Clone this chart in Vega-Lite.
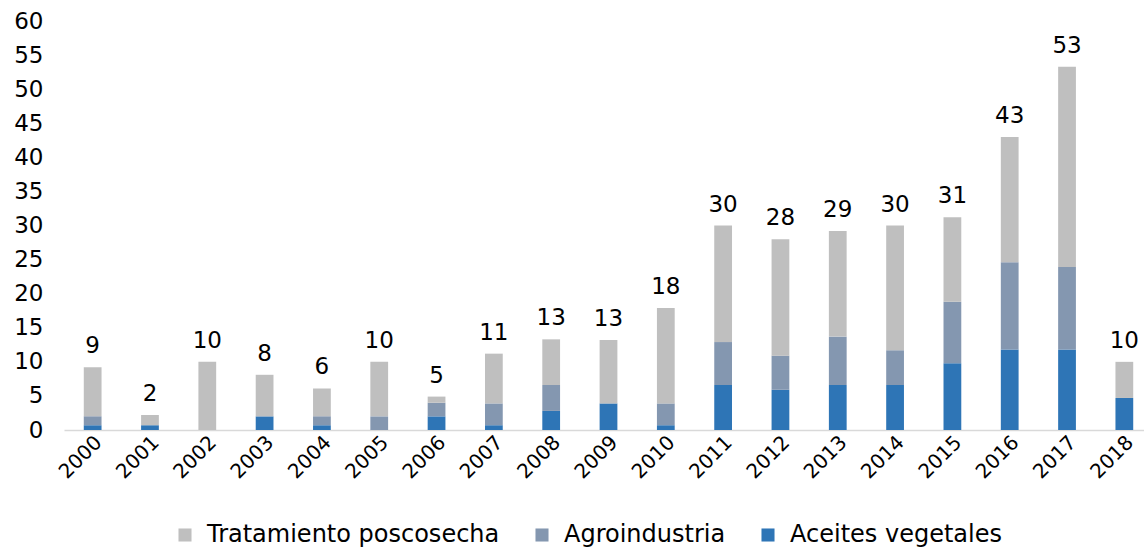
{
  "$schema": "https://vega.github.io/schema/vega-lite/v6.json",
  "autosize": "none",
  "width": 1080,
  "height": 409,
  "padding": {"left": 64, "top": 21, "right": 0, "bottom": 118},
  "background": "white",
  "config": {
    "view": {"stroke": null},
    "font": "DejaVu Sans",
    "axis": {"labelFont": "DejaVu Sans", "labelColor": "#000000", "labelFontSize": 23},
    "legend": {"labelFont": "DejaVu Sans", "labelFontSize": 24, "labelColor": "#000000"}
  },
  "data": {
    "values": [
      {"year": "2000", "serie": "Aceites vegetales", "value": 0.7},
      {"year": "2000", "serie": "Agroindustria", "value": 1.3},
      {"year": "2000", "serie": "Tratamiento poscosecha", "value": 7.2},
      {"year": "2001", "serie": "Aceites vegetales", "value": 0.7},
      {"year": "2001", "serie": "Agroindustria", "value": 0},
      {"year": "2001", "serie": "Tratamiento poscosecha", "value": 1.5},
      {"year": "2002", "serie": "Aceites vegetales", "value": 0},
      {"year": "2002", "serie": "Agroindustria", "value": 0},
      {"year": "2002", "serie": "Tratamiento poscosecha", "value": 10},
      {"year": "2003", "serie": "Aceites vegetales", "value": 2},
      {"year": "2003", "serie": "Agroindustria", "value": 0},
      {"year": "2003", "serie": "Tratamiento poscosecha", "value": 6.1},
      {"year": "2004", "serie": "Aceites vegetales", "value": 0.7},
      {"year": "2004", "serie": "Agroindustria", "value": 1.3},
      {"year": "2004", "serie": "Tratamiento poscosecha", "value": 4.1},
      {"year": "2005", "serie": "Aceites vegetales", "value": 0},
      {"year": "2005", "serie": "Agroindustria", "value": 2},
      {"year": "2005", "serie": "Tratamiento poscosecha", "value": 8},
      {"year": "2006", "serie": "Aceites vegetales", "value": 2},
      {"year": "2006", "serie": "Agroindustria", "value": 2},
      {"year": "2006", "serie": "Tratamiento poscosecha", "value": 0.9},
      {"year": "2007", "serie": "Aceites vegetales", "value": 0.7},
      {"year": "2007", "serie": "Agroindustria", "value": 3.2},
      {"year": "2007", "serie": "Tratamiento poscosecha", "value": 7.3},
      {"year": "2008", "serie": "Aceites vegetales", "value": 2.8},
      {"year": "2008", "serie": "Agroindustria", "value": 3.8},
      {"year": "2008", "serie": "Tratamiento poscosecha", "value": 6.7},
      {"year": "2009", "serie": "Aceites vegetales", "value": 3.9},
      {"year": "2009", "serie": "Agroindustria", "value": 0},
      {"year": "2009", "serie": "Tratamiento poscosecha", "value": 9.3},
      {"year": "2010", "serie": "Aceites vegetales", "value": 0.7},
      {"year": "2010", "serie": "Agroindustria", "value": 3.2},
      {"year": "2010", "serie": "Tratamiento poscosecha", "value": 14},
      {"year": "2011", "serie": "Aceites vegetales", "value": 6.6},
      {"year": "2011", "serie": "Agroindustria", "value": 6.3},
      {"year": "2011", "serie": "Tratamiento poscosecha", "value": 17.1},
      {"year": "2012", "serie": "Aceites vegetales", "value": 5.9},
      {"year": "2012", "serie": "Agroindustria", "value": 5},
      {"year": "2012", "serie": "Tratamiento poscosecha", "value": 17.1},
      {"year": "2013", "serie": "Aceites vegetales", "value": 6.6},
      {"year": "2013", "serie": "Agroindustria", "value": 7.1},
      {"year": "2013", "serie": "Tratamiento poscosecha", "value": 15.5},
      {"year": "2014", "serie": "Aceites vegetales", "value": 6.6},
      {"year": "2014", "serie": "Agroindustria", "value": 5.1},
      {"year": "2014", "serie": "Tratamiento poscosecha", "value": 18.3},
      {"year": "2015", "serie": "Aceites vegetales", "value": 9.8},
      {"year": "2015", "serie": "Agroindustria", "value": 9},
      {"year": "2015", "serie": "Tratamiento poscosecha", "value": 12.4},
      {"year": "2016", "serie": "Aceites vegetales", "value": 11.8},
      {"year": "2016", "serie": "Agroindustria", "value": 12.8},
      {"year": "2016", "serie": "Tratamiento poscosecha", "value": 18.4},
      {"year": "2017", "serie": "Aceites vegetales", "value": 11.8},
      {"year": "2017", "serie": "Agroindustria", "value": 12.1},
      {"year": "2017", "serie": "Tratamiento poscosecha", "value": 29.4},
      {"year": "2018", "serie": "Aceites vegetales", "value": 4.7},
      {"year": "2018", "serie": "Agroindustria", "value": 0},
      {"year": "2018", "serie": "Tratamiento poscosecha", "value": 5.3}
    ]
  },
  "encoding": {
    "x": {
      "field": "year",
      "type": "ordinal",
      "title": null,
      "scale": {"paddingInner": 0.69, "paddingOuter": 0.345, "range": [0, 1089]},
      "axis": {
        "labelAngle": -45,
        "labelAlign": "right",
        "labelBaseline": "middle",
        "ticks": false,
        "domainColor": "#d9d9d9",
        "domainWidth": 1.5,
        "labelPadding": 9,
        "labelOffset": 6,
        "labelFontSize": 20,
        "labelOverlap": false
      }
    }
  },
  "layer": [
    {
      "mark": {"type": "bar"},
      "encoding": {
        "y": {
          "field": "value",
          "type": "quantitative",
          "aggregate": "sum",
          "stack": "zero",
          "title": null,
          "scale": {"domain": [0, 60], "nice": false},
          "axis": {
            "values": [0, 5, 10, 15, 20, 25, 30, 35, 40, 45, 50, 55, 60],
            "grid": false,
            "domain": false,
            "ticks": false,
            "labelOverlap": false,
            "labelPadding": 21
          }
        },
        "color": {
          "field": "serie",
          "type": "nominal",
          "scale": {
            "domain": ["Tratamiento poscosecha", "Agroindustria", "Aceites vegetales"],
            "range": ["#bfbfbf", "#8497b0", "#2e75b6"]
          },
          "legend": {
            "title": null,
            "orient": "none",
            "legendX": 109,
            "legendY": 502,
            "direction": "horizontal",
            "symbolType": "square",
            "symbolSize": 170,
            "symbolStrokeWidth": 0,
            "columnPadding": 30,
            "labelOffset": 10,
            "labelLimit": 0
          }
        },
        "order": {"field": "serie", "sort": "ascending"}
      }
    },
    {
      "transform": [
        {"aggregate": [{"op": "sum", "field": "value", "as": "total"}], "groupby": ["year"]}
      ],
      "mark": {"type": "text", "baseline": "bottom", "dy": -9, "fontSize": 23, "color": "#000000"},
      "encoding": {
        "y": {
          "field": "total",
          "type": "quantitative",
          "title": null,
          "axis": {
            "values": [0, 5, 10, 15, 20, 25, 30, 35, 40, 45, 50, 55, 60],
            "grid": false,
            "domain": false,
            "ticks": false,
            "labelOverlap": false,
            "labelPadding": 21
          }
        },
        "text": {"field": "total", "type": "quantitative", "format": ".0f"}
      }
    }
  ]
}
